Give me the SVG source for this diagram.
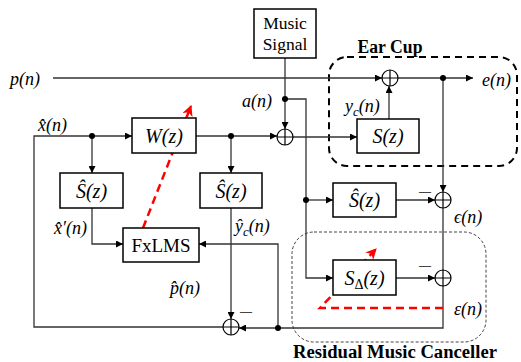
<svg xmlns="http://www.w3.org/2000/svg" width="521" height="362" viewBox="0 0 521 362">
<style>
.ln{fill:none;stroke:#333;stroke-width:1.3}
.box{fill:#fff;stroke:#000;stroke-width:1.5}
.sum{fill:#fff;stroke:#000;stroke-width:1.2}
.red{fill:none;stroke:#f00;stroke-width:2.5;stroke-dasharray:8 5}
.m{font-family:"Liberation Serif","DejaVu Serif",serif;font-style:italic;font-size:18px;fill:#000}
.bx{font-family:"Liberation Serif","DejaVu Serif",serif;font-style:italic;font-size:20px;fill:#000;text-anchor:middle}
.r{font-family:"Liberation Serif","DejaVu Serif",serif;font-size:17.5px;fill:#000;text-anchor:middle}
.b{font-family:"Liberation Serif","DejaVu Serif",serif;font-weight:bold;font-size:18px;fill:#000;text-anchor:middle}
.minus{font-family:"Liberation Sans",sans-serif;font-size:12px;fill:#444}
</style>
<defs>
<marker id="ar" viewBox="0 0 10 10" refX="10" refY="5" markerWidth="7" markerHeight="7" markerUnits="userSpaceOnUse" orient="auto"><path d="M0,0 L10,5 L0,10 z" fill="#000"/></marker>
<marker id="ra" viewBox="0 0 10 10" refX="9" refY="5" markerWidth="11" markerHeight="11" markerUnits="userSpaceOnUse" orient="auto"><path d="M0,0 L10,5 L0,10 L3,5 z" fill="#f00"/></marker>
</defs>

<g id="groups">
<rect x="329" y="57" width="188" height="109" rx="18" fill="none" stroke="#000" stroke-width="2" stroke-dasharray="7 5"/>
<rect x="292" y="232" width="194" height="110" rx="22" fill="none" stroke="#444" stroke-width="1" stroke-dasharray="3 2"/>
<text class="b" x="390" y="53" textLength="65" lengthAdjust="spacingAndGlyphs">Ear Cup</text>
<text class="b" x="395" y="358" textLength="204" lengthAdjust="spacingAndGlyphs">Residual Music Canceller</text>
</g>

<g id="connectors">
<path class="ln" d="M53,78 H382" marker-end="url(#ar)"/>
<path class="ln" d="M398,78 H473" marker-end="url(#ar)"/>
<path class="ln" d="M285,58 V129" marker-end="url(#ar)"/>
<path class="ln" d="M285,99 H306 V278 H333" marker-end="url(#ar)"/>
<path class="ln" d="M306,200 H333" marker-end="url(#ar)"/>
<path class="ln" d="M223,327 H34 V136 H132" marker-end="url(#ar)"/>
<path class="ln" d="M92,136 V173" marker-end="url(#ar)"/>
<path class="ln" d="M92,208 V244 H123" marker-end="url(#ar)"/>
<path class="ln" d="M196,136 H277" marker-end="url(#ar)"/>
<path class="ln" d="M231,136 V173" marker-end="url(#ar)"/>
<path class="ln" d="M231,208 V319" marker-end="url(#ar)"/>
<path class="ln" d="M293,137 H357" marker-end="url(#ar)"/>
<path class="ln" d="M389,119 V86" marker-end="url(#ar)"/>
<path class="ln" d="M443,78 V192" marker-end="url(#ar)"/>
<path class="ln" d="M443,208 V328 H239" marker-end="url(#ar)"/>
<path class="ln" d="M278,328 V244 H199" marker-end="url(#ar)"/>
<path class="ln" d="M396,200 H435" marker-end="url(#ar)"/>
<path class="ln" d="M396,278 H435" marker-end="url(#ar)"/>
<path class="red" d="M143,228 L191,106" marker-end="url(#ra)"/>
<path class="red" d="M443,308 H320 L376,249" marker-end="url(#ra)"/>
<g fill="#000">
<circle cx="92" cy="136" r="3"/><circle cx="231" cy="136" r="3"/><circle cx="285" cy="99" r="3"/>
<circle cx="306" cy="200" r="3"/><circle cx="443" cy="78" r="3"/><circle cx="278" cy="328" r="3"/>
</g>
</g>

<g id="music"><rect class="box" x="254" y="9" width="62" height="49"/>
<text class="r" x="285" y="29">Music</text><text class="r" x="285" y="50">Signal</text></g>
<g id="W"><rect class="box" x="132" y="118" width="64" height="35"/><text class="bx" x="164" y="143">W(z)</text></g>
<g id="Shat1"><rect class="box" x="60" y="173" width="63" height="35"/><text class="bx" x="91.5" y="198">Ŝ(z)</text></g>
<g id="Shat2"><rect class="box" x="200" y="173" width="62" height="35"/><text class="bx" x="231" y="198">Ŝ(z)</text></g>
<g id="FxLMS"><rect class="box" x="123" y="228" width="76" height="34"/><text class="r" x="161" y="252" style="font-size:19px">FxLMS</text></g>
<g id="S"><rect class="box" x="357" y="119" width="62" height="34"/><text class="bx" x="388" y="143">S(z)</text></g>
<g id="Shat3"><rect class="box" x="333" y="183" width="63" height="34"/><text class="bx" x="364.5" y="207">Ŝ(z)</text></g>
<g id="SDelta"><rect class="box" x="333" y="260" width="63" height="35"/><text class="bx" x="364.5" y="285">S<tspan dy="4" font-size="14" font-style="normal">Δ</tspan><tspan dy="-4">(z)</tspan></text></g>

<g id="sums">
<g id="sum1"><circle class="sum" cx="390" cy="78" r="8"/><path d="M382,78 H398 M390,70 V86" stroke="#000" stroke-width="1.2"/></g>
<g id="sum2"><circle class="sum" cx="285" cy="137" r="8"/><path d="M277,137 H293 M285,129 V145" stroke="#000" stroke-width="1.2"/></g>
<g id="sum3"><circle class="sum" cx="443" cy="200" r="8"/><path d="M435,200 H451 M443,192 V208" stroke="#000" stroke-width="1.2"/></g>
<g id="sum4"><circle class="sum" cx="443" cy="278" r="8"/><path d="M435,278 H451 M443,270 V286" stroke="#000" stroke-width="1.2"/></g>
<g id="sum5"><circle class="sum" cx="231" cy="327" r="8"/><path d="M223,327 H239 M231,319 V335" stroke="#000" stroke-width="1.2"/></g>
</g>

<g id="labels">
<text class="m" x="10" y="85">p(n)</text>
<text class="m" x="482" y="86">e(n)</text>
<text class="m" x="242" y="107">a(n)</text>
<text class="m" x="38" y="131">x̂(n)</text>
<text class="m" x="345" y="112">y<tspan dy="4" font-size="13">c</tspan><tspan dy="-4">(n)</tspan></text>
<text class="m" x="54" y="234">x̂′(n)</text>
<text class="m" x="235" y="232">ŷ<tspan dy="4" font-size="13">c</tspan><tspan dy="-4">(n)</tspan></text>
<text class="m" x="170" y="294">p̂(n)</text>
<text class="m" x="454" y="223">ϵ(n)</text>
<text class="m" x="454" y="315">ε(n)</text>
<text class="minus" x="240" y="316">—</text>
<text class="minus" x="419" y="196">—</text>
<text class="minus" x="419" y="270">—</text>
</g>
</svg>
